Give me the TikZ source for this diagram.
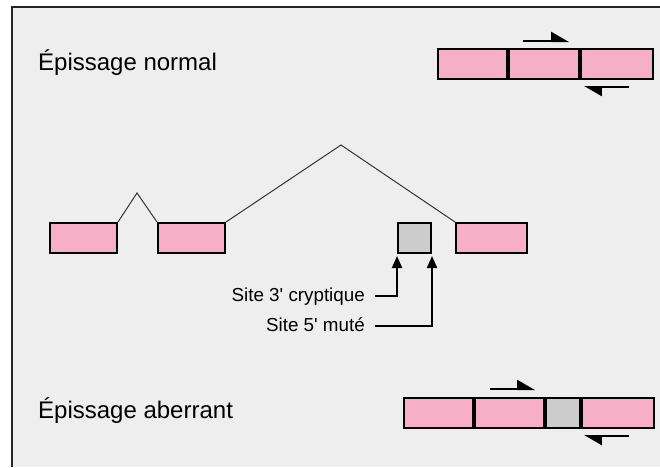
\documentclass[tikz,border=0pt]{standalone}
\usepackage{fontspec}
\setmainfont{Liberation Sans}
\usetikzlibrary{positioning,arrows.meta}
\definecolor{exonpink}{RGB}{247,175,199}
\definecolor{mutgray}{RGB}{204,204,204}
\definecolor{panelbg}{RGB}{238,238,238}
\tikzset{
  exon/.style={draw=black, line width=2pt, fill=exonpink, minimum height=30pt, inner sep=0pt},
  mutbox/.style={exon, fill=mutgray},
  intron/.style={draw=black!80, line width=1pt},
  harp/.style={line width=2pt, -{Triangle[harpoon,length=16pt,width=18pt]}},
  sitearrow/.style={line width=2pt, -{Triangle[length=12pt,width=10pt]}, shorten >=2pt},
  title/.style={font=\fontsize{24}{28}\selectfont, inner sep=0pt, anchor=base west},
  sitelabel/.style={font=\fontsize{18.8}{22}\selectfont, inner ysep=0pt, inner xsep=10pt,
    text height=14pt, text depth=4pt, anchor=base east}
}
\begin{document}
\begin{tikzpicture}[x=1pt,y=-1pt]
  \useasboundingbox (0,0) rectangle (660,467);
  \fill[panelbg] (12,7) rectangle (660,467);
  \draw[line width=1.5pt, black!85] (12,467)--(12,7)--(660,7);
  % normal splicing
  \node[title] (tnorm) at (38,70) {Épissage normal};
  \node[exon, minimum width=69pt] (n1) at (472.5,64) {};
  \node[exon, minimum width=70pt, right=0pt of n1] (n2) {};
  \node[exon, minimum width=72pt, right=0pt of n2] (n3) {};
  \coordinate (nfa) at (523,41);
  \coordinate (nfb) at (569,41);
  \coordinate (nra) at (629,87);
  \coordinate (nrb) at (584,87);
  \draw[harp] (nfa)--(nfb);
  \draw[harp] (nra)--(nrb);
  % gene
  \node[exon, minimum width=67pt] (e1) at (83.5,238) {};
  \node[exon, minimum width=67pt] (e2) at (191.5,238) {};
  \node[mutbox, minimum width=33pt] (gray) at (414.5,238) {};
  \node[exon, minimum width=71pt] (e3) at (491.5,238) {};
  \coordinate (peakA) at (137,193);
  \coordinate (peakB) at (341,145);
  \draw[intron] (e1.north east)--(peakA)--(e2.north west);
  \draw[intron] (e2.north east)--(peakB)--(e3.north west);
  \node[sitelabel] (site3) at (375,301) {Site 3\textquotesingle{} cryptique};
  \node[sitelabel] (site5) at (375,331) {Site 5\textquotesingle{} muté};
  \draw[sitearrow] (site3.east) -| (gray.south west);
  \draw[sitearrow] (site5.east) -| (gray.south east);
  % aberrant splicing
  \node[title] (taber) at (38,418) {Épissage aberrant};
  \node[exon, minimum width=69pt] (a1) at (438.7,413) {};
  \node[exon, minimum width=69pt, right=0pt of a1] (a2) {};
  \node[mutbox, minimum width=34pt, right=0pt of a2] (a3) {};
  \node[exon, minimum width=72pt, right=0pt of a3] (a4) {};
  \coordinate (afa) at (490,389);
  \coordinate (afb) at (535,389);
  \coordinate (ara) at (629,436);
  \coordinate (arb) at (584,436);
  \draw[harp] (afa)--(afb);
  \draw[harp] (ara)--(arb);
\end{tikzpicture}
\end{document}
